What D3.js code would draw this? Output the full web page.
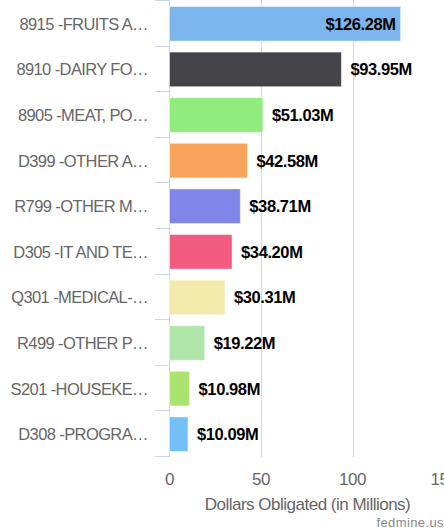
<!DOCTYPE html>
<html>
<head>
<meta charset="utf-8">
<script src="https://cdn.jsdelivr.net/npm/d3@7"></script>
<style>
  body { margin: 0; background: #fff; }
  text { font-family: "Liberation Sans", Arial, sans-serif; }
</style>
</head>
<body>
<script>
var categories = ["8915 -FRUITS A\u2026", "8910 -DAIRY FO\u2026", "8905 -MEAT, PO\u2026", "D399 -OTHER A\u2026",
    "R799 -OTHER M\u2026", "D305 -IT AND TE\u2026", "Q301 -MEDICAL-\u2026", "R499 -OTHER P\u2026",
    "S201 -HOUSEKE\u2026", "D308 -PROGRA\u2026"];
var values = [126.28, 93.95, 51.03, 42.58, 38.71, 34.20, 30.31, 19.22, 10.98, 10.09];
var colors = ["#7cb5ec", "#434348", "#90ed7d", "#f7a35c", "#8085e9", "#f15c80", "#f2e9ab", "#aee6aa", "#aae46f", "#74c0f8"];
var xTicks = [0, 50, 100, 150];

var width = 444,
    height = 531;
var svg = d3.select("body")
    .append("svg")
    .attr("width", width)
    .attr("height", height);

var x = d3.scaleLinear().domain([0, 150]).range([169.5, 444]);
var y = d3.scaleBand().domain(categories).range([1, 457]).paddingInner(0.24).paddingOuter(0.12);
var step = (457 - 1) / categories.length;

// grid lines
svg.selectAll(".grid")
    .data(xTicks.slice(1))
    .enter()
    .append("line")
    .attr("x1", function (d) { return Math.round(x(d)) + 0.5; })
    .attr("x2", function (d) { return Math.round(x(d)) + 0.5; })
    .attr("y1", 0)
    .attr("y2", 457)
    .attr("stroke", "#d8d8d8")
    .attr("stroke-width", 1);

// category axis line + ticks
svg.append("line")
    .attr("x1", 169.5).attr("x2", 169.5)
    .attr("y1", 0).attr("y2", 457)
    .attr("stroke", "#ccd6eb");
svg.selectAll(".ytick")
    .data(d3.range(categories.length + 1))
    .enter()
    .append("line")
    .attr("x1", 155).attr("x2", 169.5)
    .attr("y1", function (i) { return Math.round(1 + i * step) - 0.5; })
    .attr("y2", function (i) { return Math.round(1 + i * step) - 0.5; })
    .attr("stroke", "#ccd6eb");

// bars
svg.selectAll(".bar")
    .data(values)
    .enter()
    .append("rect")
    .attr("x", x(0))
    .attr("y", function (d, i) { return y(categories[i]); })
    .attr("width", function (d) { return x(d) - x(0); })
    .attr("height", y.bandwidth())
    .attr("fill", function (d, i) { return colors[i]; })
    .attr("stroke", "#ffffff")
    .attr("stroke-opacity", 0.5)
    .attr("stroke-width", 1);

// category labels
svg.selectAll(".cat")
    .data(categories)
    .enter()
    .append("text")
    .attr("x", 148)
    .attr("y", function (d) { return y(d) + y.bandwidth() / 2; })
    .attr("dy", "0.36em")
    .attr("text-anchor", "end")
    .attr("fill", "#666666")
    .attr("font-size", "16.5px")
    .attr("letter-spacing", "-0.6px")
    .text(function (d) { return d; });

// value labels
svg.selectAll(".val")
    .data(values)
    .enter()
    .append("text")
    .attr("x", function (d, i) { return i === 0 ? x(d) - 5 : x(d) + 9; })
    .attr("y", function (d, i) { return y(categories[i]) + y.bandwidth() / 2; })
    .attr("dy", "0.36em")
    .attr("text-anchor", function (d, i) { return i === 0 ? "end" : "start"; })
    .attr("fill", "#000000")
    .attr("font-size", "16.5px")
    .attr("font-weight", "bold")
    .attr("letter-spacing", "-0.4px")
    .text(function (d) { return "$" + d.toFixed(2) + "M"; });

// x tick labels
svg.selectAll(".xtick")
    .data(xTicks)
    .enter()
    .append("text")
    .attr("x", function (d) { return x(d); })
    .attr("y", 485)
    .attr("text-anchor", "middle")
    .attr("fill", "#666666")
    .attr("font-size", "17px")
    .attr("letter-spacing", "-0.4px")
    .text(function (d) { return d; });

svg.append("text")
    .attr("x", 307.5)
    .attr("y", 510)
    .attr("text-anchor", "middle")
    .attr("fill", "#666666")
    .attr("font-size", "17px")
    .attr("letter-spacing", "-0.5px")
    .text("Dollars Obligated (in Millions)");

svg.append("text")
    .attr("x", 444)
    .attr("y", 527)
    .attr("text-anchor", "end")
    .attr("fill", "#888888")
    .attr("font-size", "13px")
    .attr("letter-spacing", "0.4px")
    .text("fedmine.us");
</script>
</body>
</html>
